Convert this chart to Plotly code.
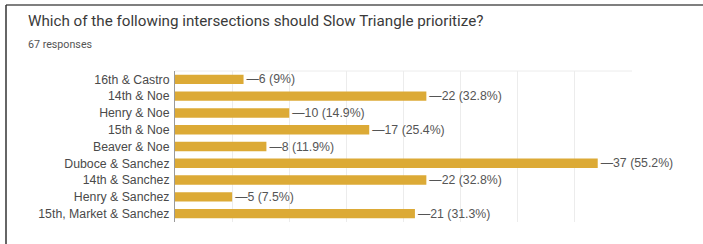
import plotly.graph_objects as go

categories = ["16th & Castro", "14th & Noe", "Henry & Noe", "15th & Noe", "Beaver & Noe",
              "Duboce & Sanchez", "14th & Sanchez", "Henry & Sanchez", "15th, Market & Sanchez"]
counts = [6, 22, 10, 17, 8, 37, 22, 5, 21]
percents = ["9%", "32.8%", "14.9%", "25.4%", "11.9%", "55.2%", "32.8%", "7.5%", "31.3%"]
title_text = "Which of the following intersections should Slow Triangle prioritize?"
subtitle_text = "67 responses"

W, H = 703, 244
ML, MR, MT, MB = 175, 71, 71, 22
PW, PH = W - ML - MR, H - MT - MB

def px(x):
    return (x - ML) / PW

def py(y):
    return (H - MB - y) / PH

labels = ["\u2014" + f"{c} ({p})" for c, p in zip(counts, percents)]

fig = go.Figure(go.Bar(
    x=counts, y=categories, orientation="h",
    marker=dict(color="#DCAA36", line=dict(width=0)),
    text=labels, textposition="outside", cliponaxis=False, constraintext="none",
    textfont=dict(family="Liberation Sans, Arial", size=12.3, color="#555555"),
    hoverinfo="skip",
))

fig.update_layout(
    width=W, height=H,
    margin=dict(l=ML, r=MR, t=MT, b=MB, pad=0),
    paper_bgcolor="white", plot_bgcolor="white",
    bargap=0.44,
    showlegend=False,
    xaxis=dict(range=[0, 40], dtick=5, showgrid=True, gridcolor="#ececec", gridwidth=1,
               showticklabels=False, zeroline=False, showline=False, ticks=""),
    yaxis=dict(autorange="reversed", showline=True, linecolor="#9a9a9a", linewidth=1,
               ticks="", ticklabelstandoff=2,
               tickfont=dict(family="Liberation Sans, Arial", size=12.3, color="#4a4a4a")),
    font=dict(family="Liberation Sans, Arial"),
    annotations=[
        dict(text=title_text, x=px(26), y=py(21), xref="paper", yref="paper",
             xanchor="left", yanchor="middle", showarrow=False,
             font=dict(family="Roboto", size=15.2, color="#3a3a3a")),
        dict(text=subtitle_text, x=px(26), y=py(44), xref="paper", yref="paper",
             xanchor="left", yanchor="middle", showarrow=False,
             font=dict(family="Roboto", size=10.7, color="#555555")),
    ],
    shapes=[
        dict(type="line", xref="paper", yref="paper", x0=px(6), x1=px(703), y0=py(5), y1=py(5),
             line=dict(color="#555555", width=1.5)),
        dict(type="line", xref="paper", yref="paper", x0=px(6), x1=px(6), y0=py(5), y1=py(244),
             line=dict(color="#333333", width=1.5)),
        dict(type="line", xref="paper", yref="paper", x0=0, x1=1, y0=1, y1=1,
             line=dict(color="#ececec", width=1)),
    ],
)

fig.write_html("out.html", config={"displayModeBar": False, "staticPlot": True},
               post_script="document.body.style.margin='0px';document.body.style.overflow='hidden';")
